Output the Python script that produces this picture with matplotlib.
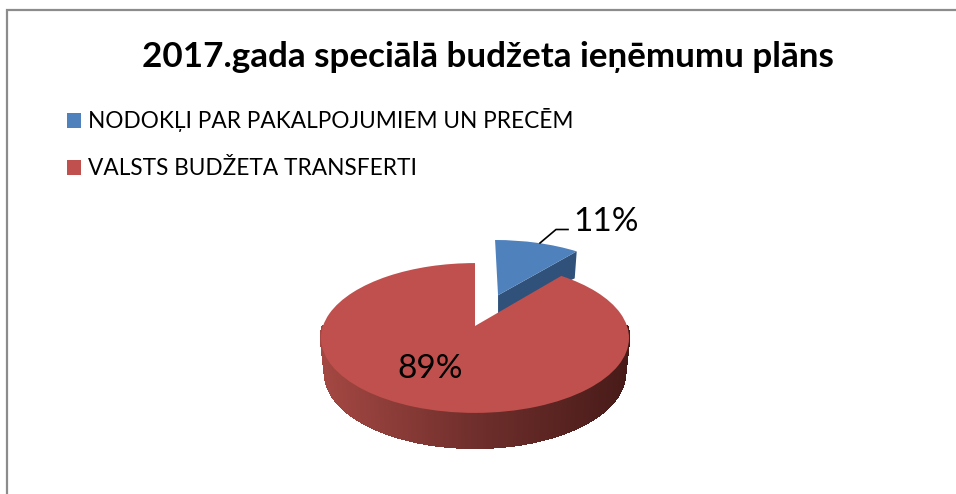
import matplotlib
matplotlib.use("Agg")
import matplotlib.pyplot as plt
import numpy as np
from matplotlib.path import Path
from matplotlib.transforms import Transform

plt.rcParams['font.family'] = ['Lato', 'DejaVu Sans']

title = "2017.gada speciālā budžeta ieņēmumu plāns"
labels = ["NODOKĻI PAR PAKALPOJUMIEM UN PRECĒM", "VALSTS BUDŽETA TRANSFERTI"]
values = [11, 89]
explode = [0.48, 0]
colors = ["#4F81BD", "#C0504D"]

W, H = 956, 494
# pie centre in picture pixels, and the tilt of the fake 3d view
CX, CY = 475, 326
RX, RY, TILT = 152, 73, 0.16
DEPTH = 35
SHRINK = 0.975


def project(u, v):
    d = 1 + TILT * v
    return CX + RX * u / d, CY - RY * v / d


# turns the flat unit pie into the tilted one
class Tilt(Transform):
    input_dims = output_dims = 2

    def transform_non_affine(self, xy):
        xy = np.asarray(xy, dtype=float)
        x, y = project(xy[:, 0], xy[:, 1])
        return np.column_stack([x, y])

    def transform_path_non_affine(self, path):
        return Path(self.transform_non_affine(path.vertices), path.codes)


def wall(u, v):
    x, y = project(u, v)
    return CX + (x - CX) * SHRINK, y + DEPTH


def shade(x, stops):
    t = np.clip((x - 320) / 308, 0, 1)
    return [np.interp(t, [0, 0.5, 1], [s[i] for s in stops]) for i in range(3)]


fig = plt.figure(figsize=(W / 100, H / 100), dpi=100)
ax = fig.add_axes([0, 0, 1, 1])

wedges = ax.pie(values, explode=explode, colors=colors, startangle=90,
                counterclock=False, wedgeprops={"linewidth": 0})[0]
ax.set_aspect("auto")
ax.set_xlim(0, W)
ax.set_ylim(H, 0)
ax.axis("off")

tilt = Tilt()
for w in wedges:
    w.set_transform(tilt + ax.transData)
    w.set_clip_on(False)
    w.set_zorder(3)

# cut face of the pulled out slice, behind the big slice
blue, red = wedges
bx, by = blue.center
a = np.radians(blue.theta1)
x0, y0 = project(bx, by)
x1, y1 = project(bx + np.cos(a), by + np.sin(a))
ax.fill([x0, x1, x1 - 2, x0], [y0, y1, y1 + 27, y0 + 18], color="#30527A", lw=0, zorder=1)
blue.set_zorder(1.5)

# side wall of the big slice, one strip for each step of the angle
stops = [(165, 72, 67), (112, 47, 44), (72, 27, 25)]
th = np.radians(np.arange(180, 360.5, 1.0))
for t0, t1 in zip(th[:-1], th[1:]):
    u = np.cos([t0, t1])
    v = np.sin([t0, t1])
    xa, ya = project(u, v)
    xb, yb = wall(u, v)
    c = [s / 255 for s in shade(xa.mean(), stops)]
    ax.fill([xa[0], xa[1], xb[1], xb[0]], [ya[0], ya[1], yb[1], yb[0]],
            facecolor=c, edgecolor=c, lw=1.0, antialiased=False, zorder=2)

ax.text(430, 369, f"{values[1]}%", fontsize=24, ha="center", va="center", color="black", zorder=5)
ax.text(606, 222, f"{values[0]}%", fontsize=24, ha="center", va="center", color="black", zorder=5)
ax.plot([540, 556, 568], [243, 229.5, 229.5], color="black", lw=1.2, zorder=5)

ax.text(488, 57, title, fontsize=25.2, fontweight="bold", ha="center", va="center", color="black")

ax.legend(wedges, labels, loc="upper left", bbox_to_anchor=(67 / W, 1 - 108 / H),
          frameon=False, fontsize=16.3, handlelength=0.64, handleheight=0.64,
          handletextpad=0.29, labelspacing=1.16, borderpad=0, borderaxespad=0)

# only top and left of the frame are in the crop
ax.plot([7, 7, W], [H, 10, 10], color="#8C8C8C", lw=1.6, solid_joinstyle="miter", clip_on=False)

fig.savefig("out.png", dpi=100)
